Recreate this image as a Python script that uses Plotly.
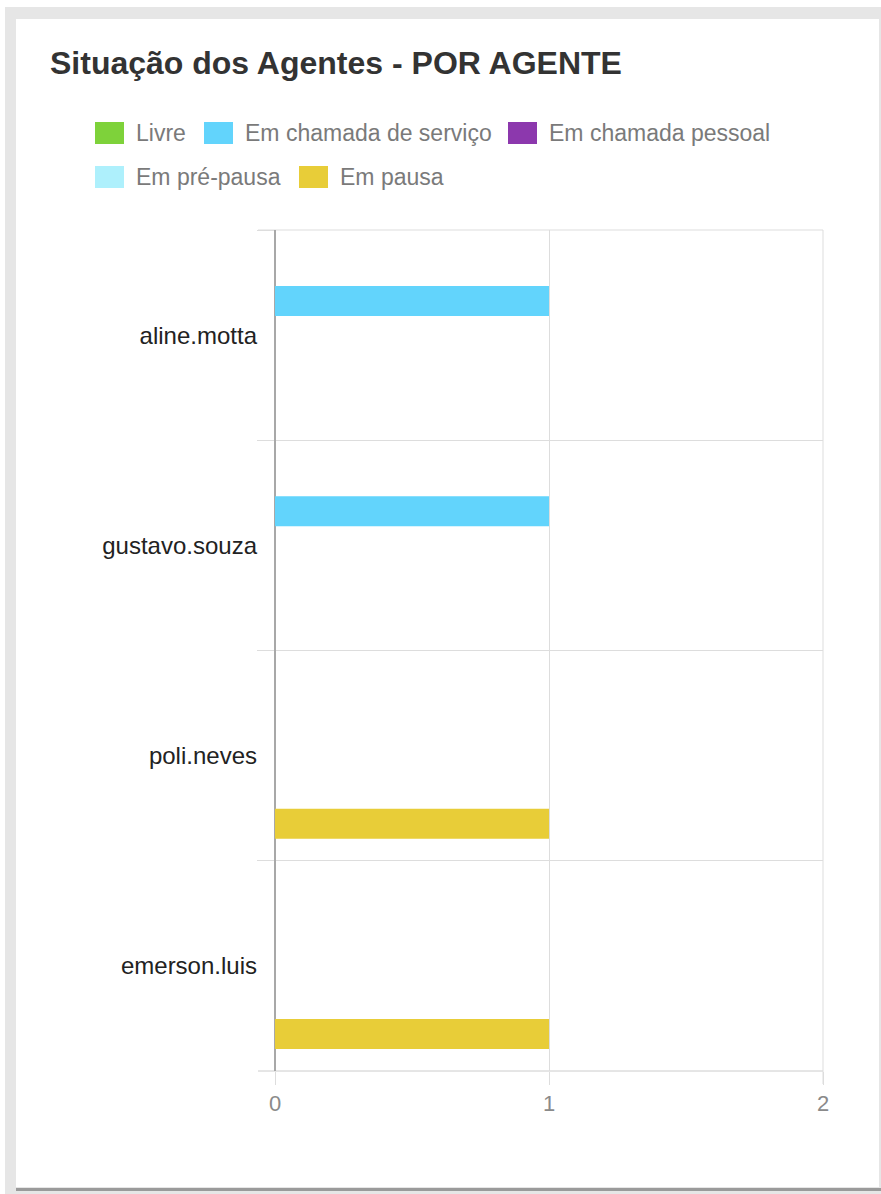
import plotly.graph_objects as go

# ---- data ----
agents = ["aline.motta", "gustavo.souza", "poli.neves", "emerson.luis"]
series_names = ["Livre", "Em chamada de serviço", "Em chamada pessoal", "Em pré-pausa", "Em pausa"]
series_colors = ["#7ed23a", "#62d4fc", "#8c38ad", "#aef0fc", "#e8cd38"]
livre = [0, 0, 0, 0]
chamada_servico = [1, 1, 0, 0]
chamada_pessoal = [0, 0, 0, 0]
pre_pausa = [0, 0, 0, 0]
pausa = [0, 0, 1, 1]
series_values = [livre, chamada_servico, chamada_pessoal, pre_pausa, pausa]
x_ticks = [0, 1, 2]

# ---- layout geometry (pixels) ----
W, H = 881, 1194
L, R, T, B = 275, 823, 230, 1071
PW, PH = R - L, B - T


def px(x):
    return (x - L) / PW


def py(y):
    return (B - y) / PH


FONT = "Arial, Liberation Sans, sans-serif"
GRID = "#dddddd"

fig = go.Figure()
for name, color, vals in zip(series_names, series_colors, series_values):
    fig.add_trace(go.Bar(
        y=agents, x=vals, name=name, orientation="h",
        marker=dict(color=color, line=dict(width=0)),
        showlegend=False, hoverinfo="skip",
    ))

shapes = [
    # page frame / card
    dict(type="rect", xref="paper", yref="paper", x0=px(5), x1=px(881), y0=py(1194), y1=py(7),
         fillcolor="#e6e6e6", line=dict(width=0), layer="below"),
    dict(type="rect", xref="paper", yref="paper", x0=px(16), x1=px(879), y0=py(1187), y1=py(19),
         fillcolor="#ffffff", line=dict(width=0), layer="below"),
    dict(type="rect", xref="paper", yref="paper", x0=px(16), x1=px(881), y0=py(1191), y1=py(1188),
         fillcolor="#9a9a9a", line=dict(width=0), layer="below"),
    # edge grid lines that plotly omits at the range ends
    dict(type="line", xref="paper", yref="paper", x0=px(258), x1=1, y0=1, y1=1,
         line=dict(color=GRID, width=1), layer="below"),
    dict(type="line", xref="paper", yref="paper", x0=px(258), x1=1, y0=0, y1=0,
         line=dict(color="#cccccc", width=1), layer="below"),
    dict(type="line", xref="paper", yref="paper", x0=1, x1=1, y0=py(1084), y1=1,
         line=dict(color=GRID, width=1), layer="below"),
]
annotations = [
    dict(text="<b>Situação dos Agentes - POR AGENTE</b>", xref="paper", yref="paper",
         x=px(48), y=py(63), xanchor="left", yanchor="middle", showarrow=False,
         font=dict(family=FONT, size=32, color="#333333")),
]

# custom legend (two rows)
legend_pos = [(95, 133), (204, 133), (508, 133), (95, 177), (299, 177)]
for name, color, (lx, ly) in zip(series_names, series_colors, legend_pos):
    shapes.append(dict(type="rect", xref="paper", yref="paper",
                       x0=px(lx), x1=px(lx + 29), y0=py(ly + 11), y1=py(ly - 11),
                       fillcolor=color, line=dict(width=0)))
    annotations.append(dict(text=name, xref="paper", yref="paper", x=px(lx + 39), y=py(ly),
                            xanchor="left", yanchor="middle", showarrow=False,
                            font=dict(family=FONT, size=23, color="#7a7a7a")))

fig.update_layout(
    width=W, height=H,
    margin=dict(l=L, r=W - R, t=T, b=H - B, pad=0),
    paper_bgcolor="#ffffff", plot_bgcolor="rgba(0,0,0,0)",
    barmode="group", bargap=0.19, bargroupgap=0.118,
    showlegend=False,
    shapes=shapes, annotations=annotations,
    font=dict(family=FONT),
    xaxis=dict(range=[0, 2], tickvals=x_ticks, ticktext=[str(v) for v in x_ticks],
               showgrid=True, gridcolor=GRID, gridwidth=1,
               zeroline=True, zerolinecolor="#a8a8a8", zerolinewidth=2,
               ticks="outside", ticklen=13, tickcolor=GRID,
               tickfont=dict(size=22, color="#8a8a8a"), showline=False, fixedrange=True),
    yaxis=dict(autorange="reversed", type="category", categoryorder="array", categoryarray=agents,
               showgrid=True, gridcolor=GRID, gridwidth=1, tickson="boundaries",
               ticks="outside", ticklen=17, tickcolor=GRID, ticklabelstandoff=17,
               tickfont=dict(size=24, color="#222222"), showline=False, zeroline=False,
               fixedrange=True),
)

fig.write_html("out.html")
